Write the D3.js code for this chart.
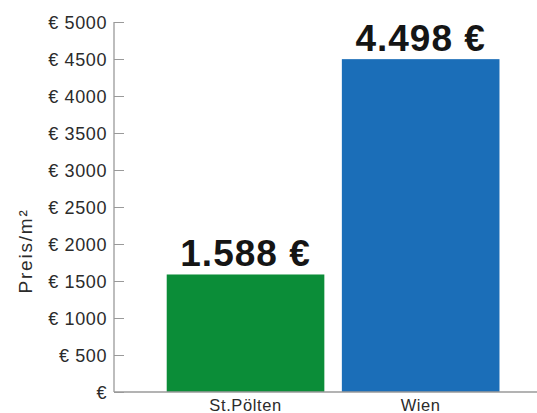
<!DOCTYPE html>
<html><head><meta charset="utf-8">
<script src="https://cdn.jsdelivr.net/npm/d3@7"></script>
<style>
html,body{margin:0;padding:0;background:#fff;}
svg{display:block;}
text{font-family:"Liberation Sans",Arial,Helvetica,sans-serif;}
</style></head>
<body>
<svg id="c" width="537" height="413"></svg>
<script>
const categories = ["St.Pölten", "Wien"];
const values = [1588, 4498];
const valueLabels = ["1.588 €", "4.498 €"];
const colors = ["#0b8d38", "#1b6eb8"];
const tickValues = [0, 500, 1000, 1500, 2000, 2500, 3000, 3500, 4000, 4500, 5000];
const tickLabels = ["€", "€ 500", "€ 1000", "€ 1500", "€ 2000", "€ 2500", "€ 3000", "€ 3500", "€ 4000", "€ 4500", "€ 5000"];
const yTitle = "Preis/m²";

const svg = d3.select("#c");
const axisX = 114, baseY = 392, topY = 22;

const y = d3.scaleLinear().domain([0, 5000]).range([baseY, topY]);
const x = d3.scaleBand().domain(categories).range([149.2, 517]).paddingInner(0.1).paddingOuter(0.1);

// bars
svg.selectAll("rect.bar").data(values).join("rect")
  .attr("class", "bar")
  .attr("x", (d, i) => x(categories[i]))
  .attr("width", x.bandwidth())
  .attr("y", d => y(d))
  .attr("height", d => y(0) - y(d))
  .attr("fill", (d, i) => colors[i]);

// y axis
const yAxis = d3.axisLeft(y).tickValues(tickValues)
  .tickFormat((d, i) => tickLabels[i]).tickSize(-10).tickPadding(7);
const gy = svg.append("g").attr("transform", `translate(${axisX},0)`).call(yAxis);
gy.select(".domain").remove();
gy.selectAll(".tick line").attr("stroke", "#9a9a9a").attr("stroke-width", 1);
gy.selectAll(".tick text").attr("fill", "#2b2b2b")
  .style("font-size", "18px").style("letter-spacing", "0.6px").attr("dy", "0.34em");
svg.append("line").attr("x1", axisX).attr("x2", axisX).attr("y1", topY).attr("y2", baseY)
  .attr("stroke", "#9a9a9a").attr("stroke-width", 1.3);

// x axis baseline
svg.append("line").attr("x1", axisX).attr("x2", 537).attr("y1", baseY).attr("y2", baseY)
  .attr("stroke", "#9a9a9a").attr("stroke-width", 1.3);

// category labels
svg.selectAll("text.cat").data(categories).join("text")
  .attr("class", "cat")
  .attr("x", d => x(d) + x.bandwidth() / 2)
  .attr("y", 410.5)
  .attr("text-anchor", "middle")
  .attr("fill", "#2b2b2b")
  .style("font-size", "16.5px").style("letter-spacing", "0.6px")
  .text(d => d);

// value labels
svg.selectAll("text.val").data(values).join("text")
  .attr("class", "val")
  .attr("x", (d, i) => x(categories[i]) + x.bandwidth() / 2)
  .attr("y", d => y(d) - 8.5)
  .attr("text-anchor", "middle")
  .attr("fill", "#151515")
  .style("font-size", "37px").style("font-weight", "bold").style("letter-spacing", "1px")
  .text((d, i) => valueLabels[i]);

// y title
svg.append("text")
  .attr("transform", "translate(31.5,251) rotate(-90)")
  .attr("text-anchor", "middle")
  .attr("fill", "#2b2b2b")
  .style("font-size", "19px").style("letter-spacing", "1.8px")
  .text(yTitle);
</script>
</body></html>
